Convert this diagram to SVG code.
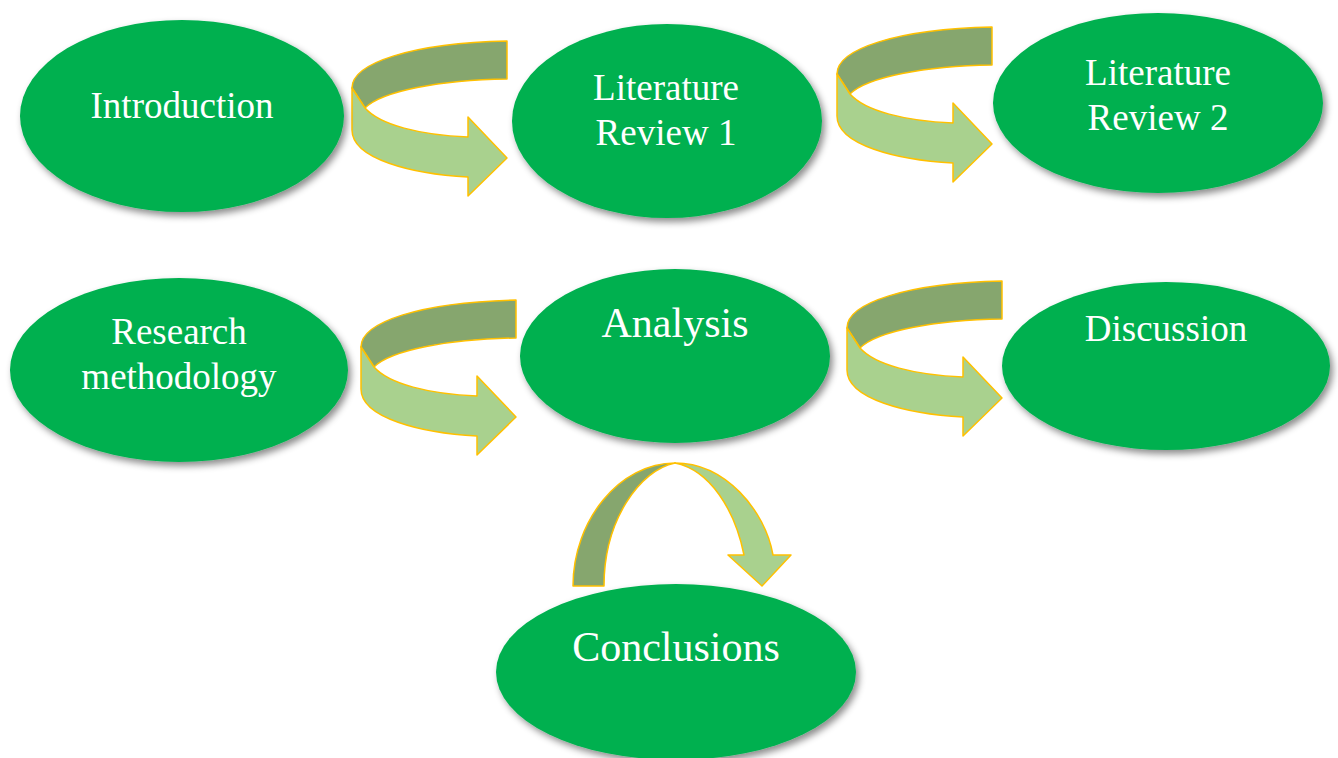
<svg xmlns="http://www.w3.org/2000/svg" width="1338" height="758" viewBox="0 0 1338 758">
  <defs>
    <filter id="shadow" x="-10%" y="-10%" width="125%" height="130%">
      <feDropShadow dx="3" dy="4" stdDeviation="3.5" flood-color="#000" flood-opacity="0.45"/>
    </filter>
    <!-- curved band arrow turning right, drawn at its own origin -->
    <g id="turn">
      <path class="back" d="M155,0 L155,38 C88,39 30,50 13,67 L0,47 C0,22 60,2 155,0 Z"/>
      <path class="front" d="M0,47 L0,89 C0,118 60,133 116,136 L116,155 L155,117 L116,76 L116,96 C68,94 28,84 13,67 Z"/>
    </g>
  </defs>
  <style>
    .node ellipse { fill: #00B050; filter: url(#shadow); }
    .node text { fill: #FFFFFF; font-family: "Liberation Serif", "Times New Roman", serif; font-size: 37px; text-anchor: middle; }
    .node text.big { font-size: 42px; }
    .back { fill: #86A66E; stroke: #FFC000; stroke-width: 1.5; stroke-linejoin: round; }
    .front { fill: #A9D18E; stroke: #FFC000; stroke-width: 1.5; stroke-linejoin: round; }
  </style>

  <rect width="1338" height="758" fill="#FFFFFF"/>

  <g id="connectors">
    <use href="#turn" transform="translate(352,41)"/>
    <use href="#turn" transform="translate(837,27)"/>
    <use href="#turn" transform="translate(361,300)"/>
    <use href="#turn" transform="translate(847,281)"/>
    <!-- arch from Analysis down to Conclusions -->
    <path class="back" d="M573,586 C573,520 620,463 675,463 C640,470 604,520 604,586 Z"/>
    <path class="front" d="M675,463 C725,463 765,510 773,555 L791,555 L762,586 L728,555 L744,555 C735,510 710,470 675,463 Z"/>
  </g>

  <g id="introduction" class="node">
    <ellipse cx="182" cy="116" rx="162" ry="96"/>
    <text x="182" y="118">Introduction</text>
  </g>

  <g id="literature-review-1" class="node">
    <ellipse cx="667" cy="121" rx="155" ry="97"/>
    <text x="666" y="100">Literature</text>
    <text x="666" y="145">Review 1</text>
  </g>

  <g id="literature-review-2" class="node">
    <ellipse cx="1158" cy="103" rx="165" ry="90"/>
    <text x="1158" y="85">Literature</text>
    <text x="1158" y="130">Review 2</text>
  </g>

  <g id="research-methodology" class="node">
    <ellipse cx="179" cy="370" rx="169" ry="92"/>
    <text x="179" y="344">Research</text>
    <text x="179" y="389">methodology</text>
  </g>

  <g id="analysis" class="node">
    <ellipse cx="675" cy="356" rx="155" ry="87"/>
    <text class="big" x="675" y="337">Analysis</text>
  </g>

  <g id="discussion" class="node">
    <ellipse cx="1166" cy="366" rx="164" ry="84"/>
    <text x="1166" y="341">Discussion</text>
  </g>

  <g id="conclusions" class="node">
    <ellipse cx="676" cy="672" rx="180" ry="88"/>
    <text class="big" x="676" y="661">Conclusions</text>
  </g>
</svg>
